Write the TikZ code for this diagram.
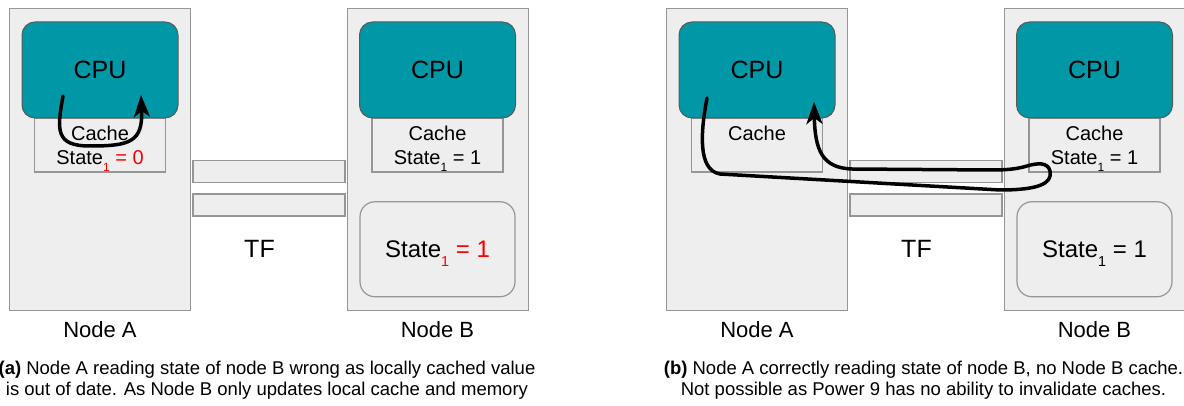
\documentclass[tikz,border=0pt]{standalone}
\usepackage{fontspec}
\setmainfont{Liberation Sans}
\usetikzlibrary{arrows.meta,positioning}
\definecolor{cputeal}{RGB}{0,151,167}
\definecolor{boxgray}{RGB}{238,238,238}
\definecolor{edgegray}{RGB}{150,150,150}
\newcommand{\px}[1]{\fontsize{#1}{#1}\selectfont}
\newcommand{\low}[1]{\raisebox{-0.36em}[0pt][0pt]{\scalebox{0.6}{#1}}}

\begin{document}
\begin{tikzpicture}[
  x=1pt, y=-1pt,
  every node/.style={inner sep=0pt, outer sep=0pt},
  host/.style={draw=edgegray, fill=boxgray, line width=1.2pt,
               minimum width=181pt, minimum height=302pt},
  cpu/.style={draw=black!65, fill=cputeal, line width=1pt, rounded corners=13pt,
              minimum width=156pt, minimum height=96pt, font=\px{25}},
  cachebox/.style={draw=edgegray, fill=boxgray, line width=1.2pt,
                   minimum width=131pt, minimum height=54pt, align=center,
                   font=\fontsize{20}{24}\selectfont},
  link/.style={draw=edgegray, fill=boxgray, line width=1.2pt,
               minimum width=152pt, minimum height=22pt},
  mem/.style={draw=edgegray, fill=boxgray, line width=1.2pt, rounded corners=15pt,
              minimum width=155pt, minimum height=95pt, font=\px{24}},
  hostname/.style={font=\px{22}},
  caption/.style={align=center, font=\fontsize{18.5}{21}\selectfont},
  flow/.style={-{Stealth[length=22pt, width=16pt, inset=6pt]},
               line width=3.5pt, line cap=round},
]
\useasboundingbox (0,0) rectangle (1184,406);

% (a) stale value read from the local cache
\node[host]     (hostAa)  at (99.75,159.75) {};
\node[host]     (hostBa)  at (438,159.75) {};
\node[cachebox] (cacheAa) at (100,145)
  {Cache\\State\textcolor{red}{\low{1} = 0}};
\node[cpu]      (cpuAa)   at (100,70) {CPU};
\node[cachebox] (cacheBa) at (437.5,145) {Cache\\State\low{1} = 1};
\node[cpu]      (cpuBa)   at (437.5,70) {CPU};
\node[mem]      (memBa)   at (437.5,249.25)
  {State\textcolor{red}{\low{1} = 1}};
\node[link]     (linkUa)  at (269,171.25) {};
\node[link]     (linkDa)  at (269,205) {};
\node[font=\px{25}] (tfa) at (259.5,249) {TF};
\node[hostname] (nameAa)  at (100,330) {Node A};
\node[hostname] (nameBa)  at (437.5,330) {Node B};
\node[caption]  (capa)    at (267,380)
  {\textbf{(a)} Node A reading state of node B wrong as locally cached value\\
   is out of date. As Node B only updates local cache and memory};
\coordinate (readAa) at (63,96);
\coordinate (backAa) at (141,95);
\draw[flow] (readAa) .. controls (57,130) and (55,146) .. (90,146)
  .. controls (130,146) and (143,142) .. (backAa);

% (b) read that goes through to the cache of node B
\begin{scope}[shift={(657,0)}]
\node[host]     (hostAb)  at (99.75,159.75) {};
\node[host]     (hostBb)  at (438,159.75) {};
\node[cachebox] (cacheAb) at (100,145) {Cache\\\mbox{}};
\node[cpu]      (cpuAb)   at (100,70) {CPU};
\node[cachebox] (cacheBb) at (437.5,145) {Cache\\State\low{1} = 1};
\node[cpu]      (cpuBb)   at (437.5,70) {CPU};
\node[mem]      (memBb)   at (437.5,249.25) {State\low{1} = 1};
\node[link]     (linkUb)  at (269,171.25) {};
\node[link]     (linkDb)  at (269,205) {};
\node[font=\px{25}] (tfb) at (259.5,249) {TF};
\node[hostname] (nameAb)  at (100,330) {Node A};
\node[hostname] (nameBb)  at (437.5,330) {Node B};
\node[caption]  (capb)    at (266.5,380)
  {\textbf{(b)} Node A correctly reading state of node B, no Node B cache.\\
   Not possible as Power 9 has no ability to invalidate caches.};
\coordinate (readAb) at (50,98);
\coordinate (backAb) at (157,102);
\draw[flow] (readAb) .. controls (44,130) and (40,170) .. (63,174) -- (343,190)
  .. controls (380,190) and (396,184) .. (393,171)
  .. controls (391,162) and (380,163) .. (370,166)
  .. controls (360,169) and (350,170) .. (335,170) -- (195,169)
  .. controls (165,168) and (158,150) .. (backAb);
\end{scope}
\end{tikzpicture}
\end{document}
